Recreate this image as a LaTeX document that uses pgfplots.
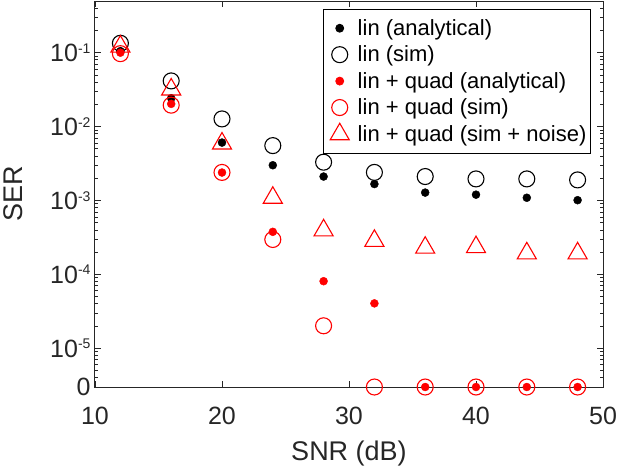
\documentclass[border=0pt]{standalone}
\usepackage{pgfplots}
\pgfplotsset{compat=1.18}
\usepackage{fontspec}
\setmainfont{Liberation Sans}
\definecolor{axgray}{gray}{0.15}
\newcommand{\tp}[1]{10\raisebox{8.5pt}{\fontsize{14}{14}\selectfont #1}}
\begin{document}
\begin{tikzpicture}
\begin{axis}[
  scale only axis, width=508pt, height=386pt,
  at={(0,0)}, anchor=south west,
  xmin=10, xmax=50, ymode=log, ymin=3e-6, ymax=0.5,
  xtick={10,20,30,40,50},
  ytick={3e-6,1e-5,1e-4,1e-3,1e-2,1e-1},
  yticklabels={0,\tp{-5},\tp{-4},\tp{-3},\tp{-2},\tp{-1}},
  minor ytick={4e-6,5e-6,6e-6,7e-6,8e-6,9e-6,2e-5,3e-5,4e-5,5e-5,6e-5,7e-5,8e-5,9e-5,2e-4,3e-4,4e-4,5e-4,6e-4,7e-4,8e-4,9e-4,2e-3,3e-3,4e-3,5e-3,6e-3,7e-3,8e-3,9e-3,2e-2,3e-2,4e-2,5e-2,6e-2,7e-2,8e-2,9e-2,2e-1,3e-1,4e-1,5e-1},
  /pgf/number format/assume math mode=true,
  tick label style={font=\fontsize{25}{28}\selectfont, text=axgray},
  xticklabel style={anchor=base, yshift=-37.3pt},
  yticklabel style={xshift=-1pt},
  label style={font=\fontsize{27}{30}\selectfont, text=axgray},
  axis line style={axgray, line width=1pt},
  tick style={axgray, line width=0.8pt},
  major tick length=6pt, minor tick length=3.5pt,
  xlabel={SNR (dB)}, ylabel={SER},
  xlabel style={at={(axis description cs:0.5,-0.19)}, anchor=base},
  ylabel style={at={(axis description cs:-0.161,0.5)}, anchor=center},
  clip=false,
  legend cell align=left,
  legend style={at={(axis description cs:0.976,0.979)}, anchor=north east,
    font=\fontsize{22}{26}\selectfont, draw=black, line width=0.8pt,
    inner xsep=2pt, inner ysep=8pt, row sep=5pt},
  legend image code/.code={\path[draw=none,fill=none] (-14pt,0pt) -- (16pt,0pt); \draw[#1] plot coordinates {(0pt,0pt)};},
]
\addplot[only marks, mark=*, mark size=4pt, black] coordinates {
(12,0.105) (16,0.0242) (20,0.00608) (24,0.0030) (28,0.00211) (32,0.00167) (36,0.00128) (40,0.0012) (44,0.00109) (48,0.00101)};
\addlegendentry{lin (analytical)}
\addplot[only marks, mark=o, mark size=8pt, black, line width=1.1pt] coordinates {
(12,0.134) (16,0.0415) (20,0.0127) (24,0.00553) (28,0.0033) (32,0.0024) (36,0.00211) (40,0.00196) (44,0.00196) (48,0.0019)};
\addlegendentry{lin (sim)}
\addplot[only marks, mark=*, mark size=4pt, red] coordinates {
(12,0.100) (16,0.0203) (20,0.00239) (24,3.77e-4) (28,8.1e-5) (32,4.06e-5) (36,3e-6) (40,3e-6) (44,3e-6) (48,3e-6)};
\addlegendentry{lin + quad (analytical)}
\addplot[only marks, mark=o, mark size=8pt, red, line width=1.1pt] coordinates {
(12,0.097) (16,0.0195) (20,0.0024) (24,2.97e-4) (28,2.02e-5) (32,3e-6) (36,3e-6) (40,3e-6) (44,3e-6) (48,3e-6)};
\addlegendentry{lin + quad (sim)}
\addplot[only marks, mark=triangle, mark size=11pt, red, line width=1.1pt] coordinates {
(12,0.121) (16,0.0318) (20,0.0059) (24,0.00109) (28,3.95e-4) (32,2.85e-4) (36,2.3e-4) (40,2.34e-4) (44,1.93e-4) (48,1.93e-4)};
\addlegendentry{lin + quad (sim + noise)}
\end{axis}
\pgfresetboundingbox
\path (-95pt,-81.3pt) rectangle (522pt,387pt);
\end{tikzpicture}
\end{document}
